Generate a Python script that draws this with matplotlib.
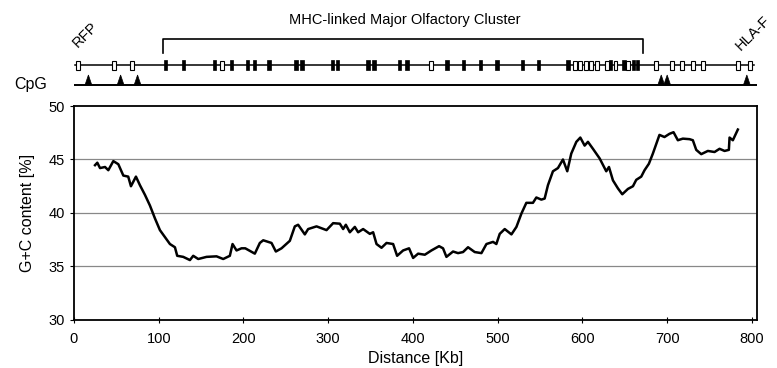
import matplotlib
matplotlib.use("Agg")
import matplotlib.pyplot as plt
from matplotlib.patches import Rectangle, Polygon

plt.rcParams['font.family'] = ['Liberation Sans', 'DejaVu Sans']

# G+C content curve (Kb, %)
distance_kb = [24.8, 27.5, 30.7, 36.6, 40.5, 46.4, 52.3, 58.2, 64.0, 67.2, 73.1, 77.8, 83.7,
               89.6, 95.5, 101.4, 107.3, 113.2, 119.1, 121.8, 128.9, 136.8, 140.7, 146.6,
               156.4, 168.2, 176.1, 183.9, 187.1, 191.8, 197.7, 202.1, 213.4, 219.3, 223.3,
               233.1, 238.2, 244.9, 254.7, 260.6, 264.5, 272.4, 276.3, 286.2, 298.0, 305.8,
               313.7, 317.6, 320.8, 325.5, 331.4, 335.3, 341.2, 349.1, 353.0, 357.0, 362.9,
               368.8, 376.6, 381.3, 388.4, 395.4, 400.2, 406.1, 414.0, 421.8, 430.8, 435.5,
               439.5, 447.3, 453.2, 459.1, 465.0, 472.9, 480.8, 486.7, 494.5, 498.4, 502.4,
               508.3, 516.2, 522.1, 528.0, 533.8, 541.6, 545.6, 551.5, 555.4, 559.3, 565.2,
               571.1, 577.0, 582.1, 586.8, 592.8, 597.5, 602.6, 606.5, 612.4, 620.3, 628.1,
               631.3, 636.0, 641.9, 647.0, 653.7, 659.6, 663.5, 669.4, 673.3, 678.4, 683.1,
               690.9, 696.8, 702.7, 707.5, 712.6, 718.5, 726.4, 730.3, 734.3, 740.2, 748.0,
               755.9, 761.8, 767.7, 772.8, 773.6, 777.5, 783.4]
gc_content = [44.47, 44.7, 44.2, 44.3, 44.0, 44.85, 44.56, 43.5, 43.4, 42.5, 43.4, 42.6, 41.7,
              40.7, 39.5, 38.4, 37.75, 37.1, 36.8, 36.0, 35.9, 35.6, 36.0, 35.7,
              35.9, 35.95, 35.7, 36.0, 37.1, 36.5, 36.7, 36.7, 36.2, 37.2, 37.45,
              37.2, 36.4, 36.7, 37.4, 38.75, 38.9, 38.0, 38.5, 38.75, 38.4, 39.05,
              39.0, 38.5, 38.9, 38.2, 38.7, 38.2, 38.5, 38.05, 38.2, 37.1, 36.75,
              37.2, 37.1, 36.0, 36.5, 36.7, 35.8, 36.2, 36.1, 36.5, 36.9, 36.7,
              35.9, 36.4, 36.25, 36.35, 36.8, 36.35, 36.25, 37.1, 37.3, 37.1, 38.05,
              38.5, 38.0, 38.7, 39.95, 40.95, 40.95, 41.45, 41.25, 41.35, 42.6, 43.9,
              44.2, 45.0, 43.9, 45.55, 46.65, 47.05, 46.3, 46.65, 46.0, 45.1, 43.9,
              44.3, 43.05, 42.3, 41.75, 42.25, 42.5, 43.1, 43.4, 44.0, 44.6, 45.55,
              47.3, 47.1, 47.4, 47.55, 46.8, 46.95, 46.9, 46.8, 45.9, 45.5, 45.8,
              45.7, 46.0, 45.8, 45.9, 47.05, 46.8, 47.8]

# gene map (Kb)
open_genes = [5, 47, 68, 175, 421, 591, 597, 604, 610, 617, 629, 639, 654,
              687, 706, 718, 731, 742, 784, 798]
filled_genes = [108, 129, 166, 186, 205, 213, 230, 262, 269, 305, 311, 347, 354,
                384, 393, 440, 460, 480, 499, 529, 548, 583, 633, 649, 660, 665]
cpg_islands = [17, 55, 75, 693, 700, 794]
cluster_start, cluster_end = 105, 671

fig = plt.figure(figsize=(7.77, 3.68), dpi=100)

# main curve panel
ax = fig.add_axes([74/777, 1 - 320/368, (757 - 74)/777, (320 - 106)/368])
ax.plot(distance_kb, gc_content, color='black', lw=1.8)
ax.set_xlim(0, 806)
ax.set_ylim(30, 50)
ax.set_xticks(range(0, 801, 100))
ax.set_yticks([30, 35, 40, 45, 50])
for g in [35, 40, 45]:
    ax.axhline(g, color='#888888', lw=0.9, zorder=0)
for s in ax.spines.values():
    s.set_linewidth(1.3)
ax.tick_params(axis='x', direction='inout', length=5, width=0.8, labelsize=10.5, pad=6)
ax.tick_params(axis='y', direction='out', length=3, width=0.8, labelsize=10.5)
ax.set_xlabel("Distance [Kb]", fontsize=11.5, labelpad=4)
ax.set_ylabel("G+C content [%]", fontsize=11.5, labelpad=10)

# gene map panel, y in pixel rows
top = fig.add_axes([74/777, 1 - 95/368, (757 - 74)/777, 95/368])
top.set_xlim(0, 806)
top.set_ylim(95, 0)
top.axis('off')

gene_y = 65
top.plot([1, 803], [gene_y, gene_y], color='black', lw=1.1)
for g in filled_genes:
    top.add_patch(Rectangle((g - 2.0, gene_y - 5), 4.0, 10, facecolor='black',
                            edgecolor='black', lw=0.5))
for g in open_genes:
    top.add_patch(Rectangle((g - 2.3, gene_y - 4.5), 4.6, 9, facecolor='white',
                            edgecolor='black', lw=0.8, zorder=3))

cpg_y = 85
top.plot([0, 806], [cpg_y, cpg_y], color='black', lw=1.4)
for c in cpg_islands:
    top.add_patch(Polygon([[c - 4, cpg_y], [c + 4, cpg_y], [c, cpg_y - 10]],
                          closed=True, facecolor='black', edgecolor='black', lw=0.5))

# cluster bracket
top.plot([cluster_start, cluster_start, cluster_end, cluster_end], [53, 39, 39, 53],
         color='black', lw=1.2)
top.text((cluster_start + cluster_end) / 2 + 2, 20, "MHC-linked Major Olfactory Cluster",
         ha='center', va='center', fontsize=10.5)

top.text(13, 35, "RFP", rotation=45, ha='center', va='center', fontsize=10.5)
top.text(801, 33, "HLA-F", rotation=45, ha='center', va='center', fontsize=10.5,
         clip_on=False)
fig.text(31/777, 1 - 84/368, "CpG", ha='center', va='center', fontsize=11.5)

fig.savefig("out.png", dpi=100)
